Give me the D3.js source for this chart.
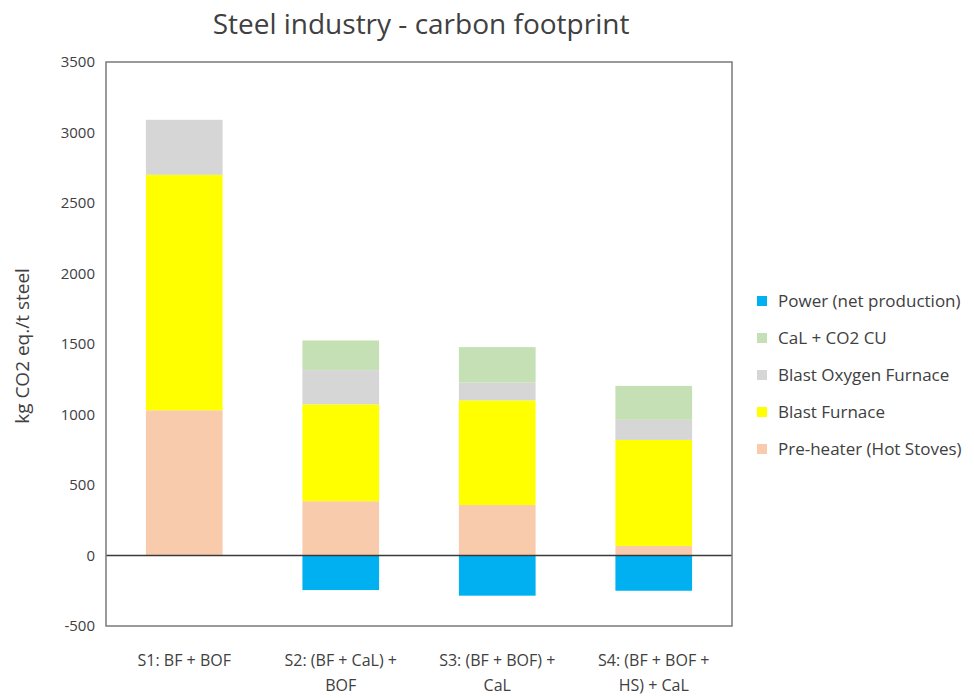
<!DOCTYPE html>
<html>
<head>
<meta charset="utf-8">
<script src="https://cdn.jsdelivr.net/npm/d3@7"></script>
<style>
  html, body { margin: 0; padding: 0; background: #fff; }
  svg text { font-family: "Open Sans", Lato, sans-serif; fill: #404040; }
</style>
</head>
<body>
<svg id="chart" width="974" height="698"></svg>
<script>
// Scenarios and their contributions, kg CO2 eq. per tonne of steel
const categories = [
  "S1: BF + BOF",
  "S2: (BF + CaL) + BOF",
  "S3: (BF + BOF) + CaL",
  "S4: (BF + BOF + HS) + CaL"
];
const preHeater     = [1030, 385, 358, 68];
const blastFurnace  = [1670, 687, 742, 752];
const oxygenFurnace = [390, 243, 126, 142];
const calCO2CU      = [0, 210, 252, 241];
const power         = [0, -245, -285, -250];

const yTicks = [-500, 0, 500, 1000, 1500, 2000, 2500, 3000, 3500];

// Series in stacking order (bottom to top); legend lists them reversed
const series = [
  { key: "Pre-heater (Hot Stoves)", values: preHeater,     color: "#F8CBAD" },
  { key: "Blast Furnace",           values: blastFurnace,  color: "#FFFF00" },
  { key: "Blast Oxygen Furnace",    values: oxygenFurnace, color: "#D6D6D6" },
  { key: "CaL + CO2 CU",            values: calCO2CU,      color: "#C5E0B4" },
  { key: "Power (net production)",  values: power,         color: "#00B0F0" }
];

const rows = categories.map((c, i) => {
  const r = { category: c };
  series.forEach(s => { r[s.key] = s.values[i]; });
  return r;
});

const svg = d3.select("#chart");
const plot = { left: 106, right: 732, top: 62, bottom: 626 };

const x = d3.scaleBand()
  .domain(categories)
  .range([plot.left, plot.right])
  .paddingInner(0.51)
  .paddingOuter(0.255);

const y = d3.scaleLinear()
  .domain([-500, 3500])
  .range([plot.bottom, plot.top]);

const stacked = d3.stack()
  .keys(series.map(s => s.key))
  .offset(d3.stackOffsetDiverging)(rows);

const color = d3.scaleOrdinal()
  .domain(series.map(s => s.key))
  .range(series.map(s => s.color));

// Title
svg.append("text")
  .attr("x", 421).attr("y", 34)
  .attr("text-anchor", "middle")
  .style("font-size", "28px")
  .text("Steel industry - carbon footprint");

// Stacked bars
svg.append("g")
  .selectAll("g")
  .data(stacked)
  .join("g")
  .attr("fill", d => color(d.key))
  .selectAll("rect")
  .data(d => d)
  .join("rect")
  .attr("x", d => x(d.data.category))
  .attr("width", x.bandwidth())
  .attr("y", d => y(Math.max(d[0], d[1])))
  .attr("height", d => Math.abs(y(d[0]) - y(d[1])));

// Zero line
svg.append("line")
  .attr("x1", plot.left).attr("x2", plot.right)
  .attr("y1", y(0)).attr("y2", y(0))
  .attr("stroke", "#3a3a3a")
  .attr("stroke-width", 1.5);

// Plot frame
svg.append("rect")
  .attr("x", plot.left).attr("y", plot.top)
  .attr("width", plot.right - plot.left)
  .attr("height", plot.bottom - plot.top)
  .attr("fill", "none")
  .attr("stroke", "#7a7a7a")
  .attr("stroke-width", 1.5);

// Y axis labels
const yAxis = d3.axisLeft(y)
  .tickValues(yTicks)
  .tickFormat(d => String(d))
  .tickSize(0)
  .tickPadding(11);
const gy = svg.append("g")
  .attr("transform", `translate(${plot.left},0)`)
  .call(yAxis);
gy.select(".domain").remove();
gy.selectAll("text")
  .style("font-size", "15px")
  .style("font-family", "'Open Sans', Lato, sans-serif")
  .attr("fill", "#404040");

svg.append("text")
  .attr("transform", `translate(29,346) rotate(-90)`)
  .attr("text-anchor", "middle")
  .style("font-size", "19px")
  .text("kg CO2 eq./t steel");

// X axis labels, wrapped to a fixed line width
const wrapWidth = 125;
const xAxis = d3.axisBottom(x).tickSize(0).tickPadding(0);
const gx = svg.append("g")
  .attr("transform", `translate(0,${plot.bottom})`)
  .call(xAxis);
gx.select(".domain").remove();
gx.selectAll("text")
  .style("font-size", "16px")
  .style("font-family", "'Open Sans', Lato, sans-serif")
  .attr("fill", "#404040")
  .attr("y", 40)
  .attr("dy", null)
  .each(function () {
    const t = d3.select(this);
    const words = t.text().split(" ");
    t.text(null);
    let line = [];
    let lineNo = 0;
    let tspan = t.append("tspan").attr("x", 0).attr("y", 40);
    words.forEach(w => {
      line.push(w);
      tspan.text(line.join(" "));
      if (tspan.node().getComputedTextLength() > wrapWidth && line.length > 1) {
        line.pop();
        tspan.text(line.join(" "));
        line = [w];
        lineNo++;
        tspan = t.append("tspan").attr("x", 0).attr("y", 40 + lineNo * 25).text(w);
      }
    });
  });

// Legend
const legendItems = series.slice().reverse();
const legend = svg.append("g").attr("transform", "translate(757,0)");
const item = legend.selectAll("g")
  .data(legendItems)
  .join("g")
  .attr("transform", (d, i) => `translate(0,${301 + i * 37})`);
item.append("rect")
  .attr("x", 0).attr("y", -5)
  .attr("width", 10).attr("height", 10)
  .attr("fill", d => d.color);
item.append("text")
  .attr("x", 21).attr("y", 0)
  .attr("dy", "0.35em")
  .style("font-size", "17px")
  .text(d => d.key);
</script>
</body>
</html>
